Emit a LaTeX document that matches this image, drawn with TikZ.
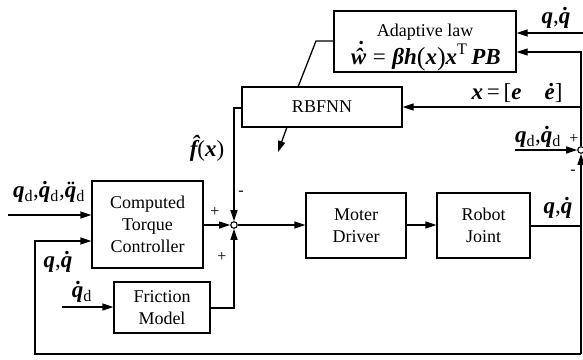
\documentclass[tikz,border=0pt]{standalone}
\usepackage{fontspec}
\setmainfont{Liberation Serif}
\usetikzlibrary{arrows.meta}
\newcommand\bi[1]{{\bfseries\itshape #1}}
\newcommand\sbd{\textsubscript{\normalfont\mdseries\upshape d}}
\newcommand\whatdot{\ooalign{\bi{\^{w}}\cr\hidewidth\kern2pt\raisebox{6.5pt}{\bi{˙}}\hidewidth\cr}}
\tikzset{
  blk/.style={draw, line width=1.3pt, rectangle, inner sep=0pt, align=center, font=\fontsize{18}{22}\selectfont},
  arr/.style={line width=1.3pt, -{Triangle[length=11pt,width=7pt]}},
  ln/.style={line width=1.3pt},
  sumc/.style={draw, circle, line width=1.1pt, minimum size=6.5pt, inner sep=0pt, fill=white},
  mlab/.style={font=\fontsize{23}{26}\selectfont, inner sep=0pt},
  sg/.style={font=\fontsize{16}{18}\selectfont, inner sep=0pt}
}
\begin{document}
\begin{tikzpicture}[x=1pt,y=-1pt]
\useasboundingbox (0,0) rectangle (583,359);
% blocks
\node[blk, minimum width=182pt, minimum height=61pt] (adapt) at (425,41.5) {};
\node[inner sep=0pt, font=\fontsize{18}{22}\selectfont, anchor=base] (adtxt) at (425,36) {Adaptive law};
\node[inner sep=0pt, font=\fontsize{23}{26}\selectfont, anchor=base] (adeq) at (426,64) {\whatdot\;=\;\bi{βh}\raisebox{-1pt}{\fontsize{26}{26}\selectfont(}\bi{x}\raisebox{-1pt}{\fontsize{26}{26}\selectfont)}\bi{x}\textsuperscript{\normalfont\mdseries T}\,\bi{PB}};
\node[blk, minimum width=160pt, minimum height=40pt] (rbf) at (322,107) {RBFNN};
\node[blk, minimum width=111pt, minimum height=87pt] (ctc) at (147.5,224.5) {Computed\\Torque\\Controller};
\node[blk, minimum width=96pt, minimum height=51pt] (fric) at (162,307.5) {Friction\\Model};
\node[blk, minimum width=100pt, minimum height=65pt] (md) at (356,225.5) {Moter\\Driver};
\node[blk, minimum width=93pt, minimum height=65pt] (rj) at (483.5,225.5) {Robot\\Joint};
\node[sumc] (s1) at (234,225) {};
\node[sumc] (s2) at (581,150) {};
% coordinates
\coordinate (inA) at (8,215);
\coordinate (inTop) at (583,33);
\coordinate (inQd) at (515,150);
\coordinate (inF) at (62,307);
\coordinate (fbBR) at (581,354);
\coordinate (fbBL) at (35,354);
\coordinate (fbUL) at (35,241);
\coordinate (eUp) at (581,52);
\coordinate (eMid) at (581,107);
\coordinate (rjOut) at (581,226);
\coordinate (rbL) at (234,108);
\coordinate (frR) at (234,308);
\coordinate (adK) at (316,41);
\coordinate (rbT) at (298,87);
\coordinate (tA) at (287,127);
\coordinate (tB) at (278,152);
% connectors
\draw[arr] (inA) -- (inA -| ctc.west);
\draw[arr] (inTop) -- (inTop -| adapt.east);
\draw[arr] (inQd) -- (s2.west);
\draw[arr] (inF) -- (inF -| fric.west);
\draw[arr] (ctc.east |- s1) -- (s1.west);
\draw[arr] (s1.east) -- (s1 -| md.west);
\draw[arr] (md.east |- 0,225) -- (rj.west |- 0,225);
\draw[ln] (rj.east |- rjOut) -- (rjOut);
\draw[arr] (fbBR) -- (s2.south);
\draw[arr] (fbBR) -- (fbBL) -- (fbUL) -- (fbUL -| ctc.west);
\draw[arr] (s2.north) -- (eUp) -- (eUp -| adapt.east);
\draw[arr] (eMid) -- (eMid -| rbf.east);
\draw[arr] (rbL -| rbf.west) -- (rbL) -- (s1.north);
\draw[arr] (fric.east |- frR) -- (frR) -- (s1.south);
\draw[ln] (adK -| adapt.west) -- (adK) -- (rbT);
\draw[arr] (tA) -- (tB);
% labels
\node[mlab] (l1) at (556,18) {\bi{q},\bi{\.{q}}};
\node[mlab] (l2) at (517,93) {\bi{x}\,=\,[\bi{e}\quad\bi{\.{e}}]};
\node[mlab] (l3) at (538,137) {\bi{q}\sbd,\bi{\.{q}}\sbd};
\node[sg] (p1) at (574,139) {+};
\node[sg] (m1) at (573,172) {-};
\node[mlab] (l4) at (558,208) {\bi{q},\bi{\.{q}}};
\node[mlab] (l5) at (207,148) {\bi{\^{f}}\normalfont(\bi{x})};
\node[sg] (m2) at (241,193) {-};
\node[sg] (p2) at (215,212) {+};
\node[sg] (p3) at (222,257) {+};
\node[mlab] (l6) at (49,192) {\bi{q}\sbd,\bi{\.{q}}\sbd,\bi{\"{q}}\sbd};
\node[mlab] (l7) at (58,262) {\bi{q},\bi{\.{q}}};
\node[mlab] (l8) at (82,292) {\bi{\.{q}}\sbd};
\end{tikzpicture}
\end{document}
